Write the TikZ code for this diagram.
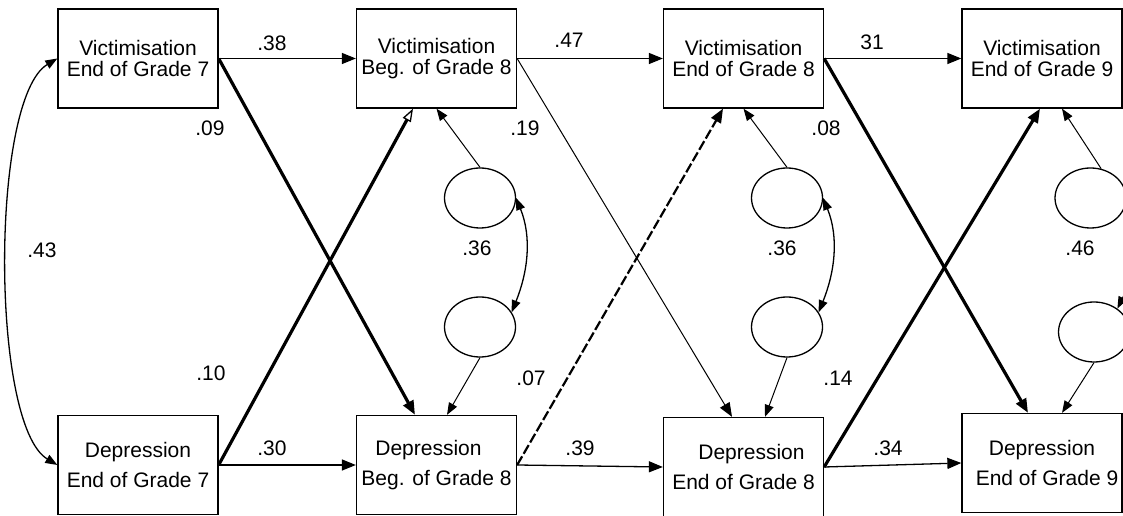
\documentclass[tikz,border=0pt]{standalone}
\usepackage{fontspec}
\setmainfont{Liberation Sans}
\usetikzlibrary{arrows.meta,shapes.geometric}

\begin{document}
\begin{tikzpicture}[
        x=1pt, y=1pt,
        var/.style={draw, line width=1.3pt, minimum width=160pt, minimum height=99pt, inner sep=0pt, align=center, font=\fontsize{21}{21}\selectfont},
        dep/.style={var, font=\fontsize{21}{30}\selectfont},
        resid/.style={draw, ellipse, line width=1.3pt, minimum width=71pt, minimum height=60pt, inner sep=0pt},
        coef/.style={font=\fontsize{21}{21}\selectfont, inner sep=0pt},
        reg/.style={-{Triangle[length=14pt,width=11pt]}, line width=1.3pt},
        regthick/.style={reg, line width=3.2pt},
        regthin/.style={reg, line width=1pt},
        regdash/.style={reg, line width=2.2pt, dash pattern=on 10pt off 3pt},
        resarrow/.style={-{Triangle[length=12pt,width=9pt]}, line width=1pt},
        covar/.style={{Triangle[length=12pt,width=9pt]}-{Triangle[length=12pt,width=9pt]}, line width=1.3pt}
    ]
        \useasboundingbox (0,0) rectangle (1123,516);

        % observed variables
        \node[var] (vA) at (138,457.5) {Victimisation\\End of Grade 7};
        \node[dep] (dA) at (138,51)    {Depression\\End of Grade 7};
        \node[var] (vB) at (436.5,457.5) {Victimisation\\Beg. of Grade 8};
        \node[dep] (dB) at (436.5,51)    {\hspace*{-16pt}Depression\\Beg. of Grade 8};
        \node[var] (vC) at (743.5,457.5) {Victimisation\\End of Grade 8};
        \node[dep] (dC) at (743.5,49)    {\hspace*{16pt}Depression\\End of Grade 8};
        \node[var] (vD) at (1042,457.5) {Victimisation\\End of Grade 9};
        \node[dep] (dD) at (1042,53)    {Depression\\\hspace*{10pt}End of Grade 9};

        % residuals
        \node[resid] (eB1) at (480,318) {};
        \node[resid] (eB2) at (480,189) {};
        \node[resid] (eC1) at (787,318) {};
        \node[resid] (eC2) at (787,189) {};
        \node[resid] (eD1) at (1090.5,318) {};
        \node[resid] (eD2) at (1094,184) {};

        % stability paths
        \draw[reg] (vA.east) -- (vB.west);
        \draw[reg] (vB.east) -- (vC.west);
        \draw[reg] (vC.east) -- (vD.west);
        \draw[reg] (dA.east) -- (dB.west);
        \draw[reg] (dB.east) -- (dC.west);
        \draw[reg] (dC.east) -- (dD.west);

        % cross-lagged paths
        \draw[regthick] (vA.east) -- ([xshift=-21.5pt]dB.north);
        \draw[line width=3.2pt, -{Triangle[open, length=13pt, width=9pt, line width=1.3pt]}] (dA.east) -- ([xshift=-23.5pt]vB.south);
        \draw[regthin] (vB.east) -- ([xshift=-11.5pt]dC.north);
        \draw[regdash] (dB.east) -- ([xshift=-20.5pt]vC.south);
        \draw[regthick] (vC.east) -- ([xshift=-14pt]dD.north);
        \draw[regthick] (dC.east) -- ([xshift=-2pt]vD.south);

        % residual paths
        \draw[resarrow] (eB1.north) -- (vB.south);
        \draw[resarrow] (eB2.south) -- ([xshift=10.5pt]dB.north);
        \draw[resarrow] (eC1.north) -- (vC.south);
        \draw[resarrow] (eC2.south) -- ([xshift=21.5pt]dC.north);
        \draw[resarrow] (eD1.70) -- ([xshift=20pt]vD.south);
        \draw[resarrow] (eD2.south) -- ([xshift=20pt]dD.north);

        % covariances
        \draw[covar] (dA.west) .. controls +(-67,40) and +(-67,-40) .. (vA.west);
        \draw[covar] (eB2.25) .. controls +(16,40) and +(16,-40) .. (eB1.east);
        \draw[covar] (eC2.25) .. controls +(16,40) and +(16,-40) .. (eC1.east);
        \draw[covar] (eD2.45) .. controls +(20,40) and +(20,-40) .. (eD1.350);

        % coefficients
        \node[coef] (c38) at (272,473) {.38};
        \node[coef] (c47) at (569,476) {.47};
        \node[coef] (c31) at (872,474) {31};
        \node[coef] (c30) at (272,68) {.30};
        \node[coef] (c39) at (580,68) {.39};
        \node[coef] (c34) at (888,68) {.34};
        \node[coef] (c09) at (210,388) {.09};
        \node[coef] (c10) at (211,143) {.10};
        \node[coef] (c19) at (525,388) {.19};
        \node[coef] (c07) at (531,138) {.07};
        \node[coef] (c08) at (826,388) {.08};
        \node[coef] (c14) at (838,138) {.14};
        \node[coef] (c43) at (42,266) {.43};
        \node[coef] (c36a) at (477,268) {.36};
        \node[coef] (c36b) at (782,268) {.36};
        \node[coef] (c46) at (1080,268) {.46};
    \end{tikzpicture}
\end{document}
